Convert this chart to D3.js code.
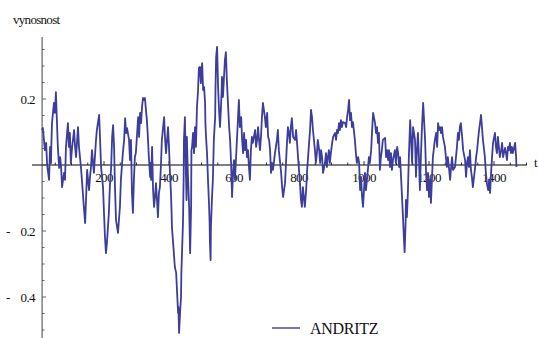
<!DOCTYPE html>
<html>
<head>
<meta charset="utf-8">
<script src="https://cdn.jsdelivr.net/npm/d3@7"></script>
<style>
  body { margin: 0; background: #fff; }
  text { font-family: "Liberation Serif", "DejaVu Serif", serif; fill: #111; }
</style>
</head>
<body>
<div id="chart"></div>
<script>
const chartWidth = 539;
const chartHeight = 338;

// trading day index and return
const days = [
  9, 12, 18, 22, 25, 31, 34, 37, 38, 40, 46, 49, 52, 55, 58, 62, 65, 68, 71, 77,
  80, 83, 89, 92, 95, 98, 102, 108, 111, 114, 120, 123, 129, 132, 138, 142, 145, 148, 154, 157,
  160, 163, 169, 172, 175, 178, 185, 188, 191, 197, 200, 203, 206, 209, 215, 218, 222, 225, 228, 231,
  234, 237, 243, 249, 252, 258, 262, 265, 268, 271, 277, 280, 283, 286, 289, 292, 295, 298, 302, 305,
  308, 311, 314, 317, 320, 323, 326, 329, 332, 335, 338, 342, 343, 345, 348, 351, 354, 357, 360, 363,
  366, 369, 372, 375, 378, 385, 388, 391, 394, 397, 400, 403, 406, 408, 409, 412, 418, 422, 425, 428,
  429, 431, 434, 437, 438, 440, 443, 445, 446, 449, 452, 454, 455, 458, 462, 465, 468, 469, 471, 474,
  477, 480, 483, 486, 489, 492, 495, 498, 500, 502, 505, 508, 511, 512, 514, 517, 520, 523, 525, 526,
  528, 529, 532, 535, 538, 542, 543, 545, 548, 551, 554, 557, 560, 562, 563, 566, 572, 575, 578, 582,
  585, 588, 591, 594, 597, 600, 603, 606, 609, 615, 618, 622, 625, 628, 631, 634, 637, 640, 643, 646,
  649, 652, 655, 658, 665, 668, 671, 674, 677, 680, 683, 686, 689, 695, 698, 702, 705, 708, 711, 714,
  717, 720, 726, 729, 732, 735, 738, 742, 745, 748, 751, 757, 760, 763, 766, 769, 772, 775, 778, 782,
  788, 791, 794, 797, 800, 803, 806, 809, 812, 818, 822, 825, 828, 831, 834, 837, 840, 843, 849, 852,
  855, 858, 862, 865, 868, 871, 874, 880, 883, 886, 889, 892, 895, 898, 902, 905, 911, 914, 917, 920,
  923, 926, 929, 932, 935, 942, 945, 948, 951, 954, 957, 960, 963, 966, 972, 975, 978, 982, 985, 988,
  991, 994, 997, 1000, 1003, 1006, 1009, 1012, 1015, 1018, 1022, 1025, 1028, 1034, 1037, 1040, 1043, 1046, 1049, 1052,
  1055, 1058, 1065, 1068, 1071, 1074, 1077, 1080, 1083, 1086, 1089, 1095, 1098, 1102, 1105, 1108, 1111, 1114, 1117, 1120,
  1123, 1125, 1128, 1129, 1132, 1135, 1138, 1142, 1145, 1148, 1151, 1157, 1160, 1163, 1166, 1169, 1172, 1175, 1178, 1182,
  1188, 1191, 1194, 1197, 1200, 1203, 1206, 1209, 1212, 1218, 1222, 1225, 1228, 1231, 1234, 1237, 1240, 1243, 1249, 1252,
  1255, 1258, 1262, 1265, 1268, 1271, 1274, 1280, 1283, 1286, 1289, 1292, 1295, 1298, 1302, 1305, 1311, 1314, 1317, 1320,
  1323, 1326, 1329, 1332, 1335, 1342, 1345, 1348, 1351, 1354, 1357, 1360, 1363, 1366, 1372, 1375, 1378, 1382, 1385, 1388,
  1391, 1394, 1397, 1403, 1406, 1409, 1412, 1415, 1418, 1422, 1425, 1428, 1434, 1437, 1440, 1443, 1446, 1449, 1452, 1455,
  1458, 1465, 1468, 1469
];

const andritz = [
  0.106, 0.112, 0.045, 0.067, 0, -0.045, 0.055, 0.006, 0.061, 0.127, 0.188, 0.158, 0.221, 0.136, 0.055, -0.009, 0.024, -0.006, -0.067, -0.024,
  -0.045, 0.055, 0.127, 0.055, 0.097, 0.006, 0.055, 0.106, 0.055, 0.024, 0.115, 0.055, -0.006, -0.045, -0.127, -0.176, -0.097, -0.015, -0.076, -0.036,
  -0.006, 0.045, -0.024, 0.024, 0.070, 0.106, 0.152, 0.076, -0.006, -0.067, -0.145, -0.218, -0.267, -0.236, -0.145, -0.067, -0.006, 0.085, 0.121, 0.055,
  -0.076, -0.167, -0.206, -0.127, -0.045, 0.036, 0.076, 0.142, 0.097, 0.112, 0.076, 0.015, 0.076, -0.085, -0.145, -0.045, 0.024, 0.036, 0.097, 0.145,
  0.085, 0.158, 0.127, 0.176, 0.203, 0.197, 0.203, 0.167, 0.136, 0.085, 0.024, -0.036, 0.006, -0.045, 0.055, -0.076, -0.127, -0.097, -0.055, -0.106,
  -0.158, -0.085, -0.067, -0.006, 0.076, 0.145, 0.076, 0.036, 0.076, 0.115, 0.055, -0.024, -0.085, -0.145, -0.188, -0.227, -0.309, -0.327, -0.388, -0.448,
  -0.430, -0.509, -0.448, -0.400, -0.327, -0.267, -0.176, -0.045, 0.076, 0.145, -0.024, -0.106, 0.085, -0.024, -0.127, -0.267, -0.127, 0.045, 0.055, 0.097,
  0.036, 0.115, 0.055, 0.176, 0.218, 0.294, 0.297, 0.248, 0.288, 0.309, 0.227, 0.236, 0.188, 0.127, 0.085, 0.036, -0.045, -0.115, -0.176, -0.236,
  -0.288, -0.188, -0.106, -0.045, 0.076, 0.145, 0.227, 0.327, 0.358, 0.236, 0.167, 0.115, 0.176, 0.227, 0.267, 0.206, 0.318, 0.342, 0.258, 0.176,
  0.115, 0.076, 0.006, -0.097, -0.024, 0.015, -0.045, 0.015, 0.076, 0.197, 0.115, 0.145, 0.076, 0.036, 0.097, 0.045, 0.076, 0.024, 0.045, -0.006,
  -0.045, 0.045, 0.085, 0.067, 0.106, 0.055, 0.076, 0.115, 0.076, 0.045, 0.085, 0.145, 0.188, 0.145, 0.115, 0.158, 0.085, 0.076, 0.045, -0.024,
  0.006, -0.015, 0.036, 0.055, 0.076, 0.106, 0.045, 0.006, -0.024, -0.067, -0.097, -0.055, 0.006, 0.067, 0.115, 0.097, 0.067, 0.115, 0.142, 0.085,
  0.076, 0.106, 0.067, 0.024, -0.015, -0.055, -0.106, -0.127, -0.067, -0.127, -0.076, -0.015, 0.024, 0.067, 0.106, 0.167, 0.145, 0.106, 0.045, 0.006,
  0.036, 0.076, 0.045, 0.006, 0.045, 0.024, -0.024, 0.006, 0.036, -0.006, 0.024, 0.045, 0.006, 0.036, 0.067, 0.085, 0.097, 0.076, 0.106, 0.097,
  0.127, 0.106, 0.136, 0.115, 0.130, 0.127, 0.115, 0.145, 0.167, 0.197, 0.136, 0.158, 0.115, 0.130, 0.076, 0.036, 0.006, 0.024, 0.006, -0.076,
  -0.036, -0.097, -0.127, -0.076, -0.024, -0.076, -0.045, -0.015, 0.024, 0.006, 0.045, 0.106, 0.158, 0.127, 0.097, 0.115, 0.067, 0.097, -0.015, 0.024,
  0.045, 0.076, 0.082, 0.024, 0.045, 0.015, 0.045, -0.006, 0.036, -0.015, 0.015, 0.045, 0.006, 0.055, 0.036, -0.006, 0.024, -0.036, -0.097, -0.158,
  -0.227, -0.264, -0.176, -0.106, -0.158, -0.085, 0.024, 0.136, 0.076, 0.006, 0.115, 0.076, -0.036, 0.045, 0.097, 0.024, -0.076, 0.024, 0.106, 0.188,
  0.076, -0.024, -0.076, -0.024, -0.097, -0.045, -0.115, -0.045, 0.024, 0.076, 0.097, 0.055, 0.127, 0.106, 0.115, 0.097, 0.115, 0.085, 0.055, 0.024,
  -0.006, 0.024, -0.015, -0.045, -0.006, 0.024, -0.015, -0.006, 0.024, 0.055, 0.097, 0.076, 0.115, 0.127, 0.085, 0.045, 0.015, -0.036, 0.006, 0.024,
  -0.006, 0.045, -0.015, -0.036, -0.067, -0.006, 0.024, 0.045, 0.076, 0.106, 0.127, 0.152, 0.115, 0.076, 0.024, -0.024, -0.055, -0.076, -0.045, -0.085,
  -0.024, 0.024, 0.067, 0.097, 0.055, 0.036, 0.085, 0.055, 0.024, 0.045, 0.067, 0.024, 0.052, 0.036, 0.015, 0.055, 0.045, 0.067, 0.036, 0.055,
  0.036, 0.067, 0.024, -0.006
];

const seriesName = 'ANDRITZ';
const xLabel = 't';
const yLabel = 'vynosnost';
const xMajorTicks = [200, 400, 600, 800, 1000, 1200, 1400];
const yMajorTicks = [0.2, -0.2, -0.4];

let svg = d3.select('#chart').append('svg')
  .attr('width', chartWidth)
  .attr('height', chartHeight);

let x_scale = d3.scaleLinear()
  .domain([0, 1500])
  .range([39, 526.5]);

let y_scale = d3.scaleLinear()
  .domain([-0.4, 0.2])
  .range([297, 99]);

let axisX = x_scale(9.5);   // y axis sits a little right of t = 0
let axisY = y_scale(0);

// x axis, ticks pointing up
svg.append('line')
  .attr('x1', 32).attr('x2', 527)
  .attr('y1', axisY).attr('y2', axisY)
  .attr('stroke', '#000').attr('stroke-width', 1);

svg.selectAll('.xminor')
  .data(d3.range(50, 1501, 50))
  .enter().append('line')
  .attr('class', 'xminor')
  .attr('x1', d => x_scale(d)).attr('x2', d => x_scale(d))
  .attr('y1', axisY)
  .attr('y2', d => axisY - (d % 200 == 0 ? 4 : 2.5))
  .attr('stroke', '#000').attr('stroke-width', 0.8);

svg.selectAll('.xlabel')
  .data(xMajorTicks)
  .enter().append('text')
  .attr('class', 'xlabel')
  .attr('x', d => x_scale(d))
  .attr('y', axisY + 17)
  .attr('text-anchor', 'middle')
  .style('font-size', '13px')
  .style('letter-spacing', '-0.6px')
  .text(d => d);

// y axis, ticks pointing right
svg.append('line')
  .attr('x1', axisX).attr('x2', axisX)
  .attr('y1', 37).attr('y2', 338)
  .attr('stroke', '#444').attr('stroke-width', 1);

svg.selectAll('.yminor')
  .data(d3.range(-0.5, 0.4, 0.05).map(d => Math.round(d * 100) / 100))
  .enter().append('line')
  .attr('class', 'yminor')
  .attr('x1', axisX)
  .attr('x2', d => axisX + (Math.abs(Math.round(d * 100) % 20) == 0 ? 4 : 2.5))
  .attr('y1', d => y_scale(d)).attr('y2', d => y_scale(d))
  .attr('stroke', '#444').attr('stroke-width', 0.8);

// minus sign printed apart from the number, as in the original
let ylabels = svg.selectAll('.ylabel')
  .data(yMajorTicks)
  .enter().append('text')
  .attr('class', 'ylabel')
  .attr('y', d => y_scale(d) + 4.5)
  .style('font-size', '13px')
  .style('letter-spacing', '-0.6px');

ylabels.filter(d => d < 0).append('tspan')
  .attr('x', 6)
  .text('-');

ylabels.append('tspan')
  .attr('x', 35)
  .attr('text-anchor', 'end')
  .text(d => d3.format('.1f')(Math.abs(d)));

svg.append('text')
  .attr('x', 13).attr('y', 24)
  .style('font-size', '13px')
  .style('letter-spacing', '-0.7px')
  .text(yLabel);

svg.append('text')
  .attr('x', 534).attr('y', 167)
  .style('font-size', '13px')
  .text(xLabel);

// the series
let draw_line = d3.line()
  .x((d, i) => x_scale(days[i]))
  .y(d => y_scale(d));

svg.append('path')
  .datum(andritz)
  .attr('d', draw_line)
  .attr('fill', 'none')
  .attr('stroke', '#3d3d9b')
  .attr('stroke-width', 1.8)
  .attr('stroke-linejoin', 'round');

// legend
svg.append('line')
  .attr('x1', 272).attr('x2', 300)
  .attr('y1', 328).attr('y2', 328)
  .attr('stroke', '#3d3d9b').attr('stroke-width', 1.4);

svg.append('text')
  .attr('x', 310).attr('y', 333.5)
  .style('font-size', '16px')
  .style('letter-spacing', '-0.3px')
  .text(seriesName);
</script>
</body>
</html>
